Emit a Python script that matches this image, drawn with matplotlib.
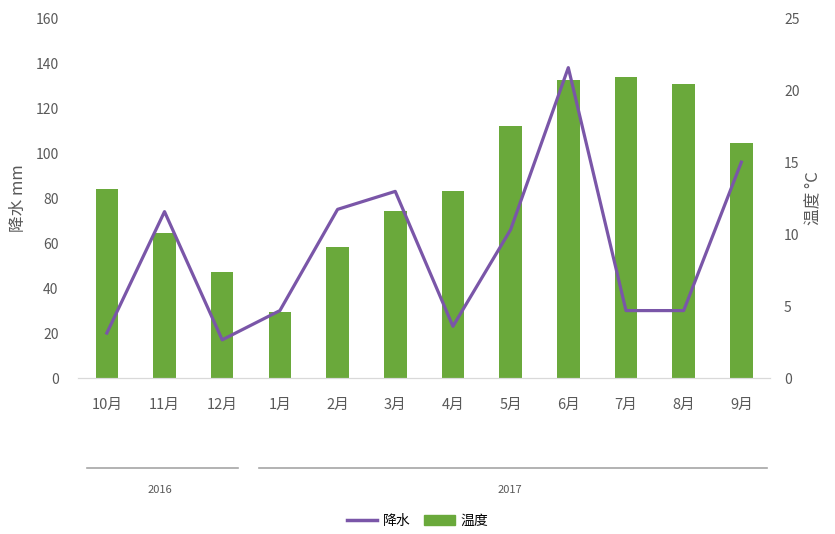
import numpy as np
import matplotlib
matplotlib.use('Agg')
import matplotlib.pyplot as plt
from matplotlib.lines import Line2D
from matplotlib.patches import Patch

plt.rcParams['font.family'] = ['Noto Sans CJK SC', 'DejaVu Sans']

months = ['10月', '11月', '12月', '1月', '2月', '3月', '4月', '5月', '6月', '7月', '8月', '9月']
rain = [20, 74, 17, 30, 75, 83, 23, 66, 138, 30, 30, 96]          # 降水 mm
temp = [13.1, 10.1, 7.4, 4.6, 9.1, 11.6, 13.0, 17.5, 20.7, 20.9, 20.4, 16.3]  # 温度 °C
years = ['2016', '2017']
year_spans = [(-0.34, 2.27), (2.64, 11.44)]

grey = '#595959'
green = '#6aa93b'
purple = '#7a56a8'

fig = plt.figure(figsize=(8.35, 5.34), dpi=100)
ax = fig.add_axes([0.0934, 0.292, 0.829, 0.674])
ax2 = ax.twinx()
ax.set_zorder(ax2.get_zorder() + 1)
ax.patch.set_visible(False)

xx = np.arange(len(months))
ax2.bar(xx, temp, width=0.39, color=green, zorder=2)
ax.plot(xx, rain, color=purple, lw=2.3, zorder=3)

ax.set_xlim(-0.5, len(months) - 0.5)
ax.set_ylim(0, 160)
ax2.set_ylim(0, 25)
ax.set_yticks(range(0, 161, 20))
ax2.set_yticks(range(0, 26, 5))
ax.set_xticks(xx)
ax.set_xticklabels(months)

for a in (ax, ax2):
    for s in ['top', 'left', 'right']:
        a.spines[s].set_visible(False)
    a.spines['bottom'].set_color('#d9d9d9')
    a.tick_params(axis='y', length=0, labelsize=10, labelcolor=grey)
ax.tick_params(axis='y', pad=14)
ax2.tick_params(axis='y', pad=10)
ax.tick_params(axis='x', length=0, pad=14, labelsize=10.5, labelcolor=grey)

ax.set_ylabel('降水 mm', fontsize=12, color=grey, labelpad=6)
ax2.set_ylabel('温度 °C', fontsize=12, color=grey, labelpad=4)

# year grouping below month labels
trans = ax.get_xaxis_transform()
for yr, (x0, x1) in zip(years, year_spans):
    ax.plot([x0, x1], [-0.25, -0.25], color='#a6a6a6', lw=1.2, transform=trans, clip_on=False)
    ax.text((x0 + x1) / 2 - 0.05, -0.31, yr, transform=trans, ha='center', va='center',
            fontsize=8, color=grey)

handles = [Line2D([0], [0], color=purple, lw=2.5), Patch(color=green)]
fig.legend(handles, ['降水', '温度'], loc='center', bbox_to_anchor=(0.5, 0.024), ncol=2,
           frameon=False, fontsize=10, handlelength=2.2, columnspacing=1.0, handletextpad=0.4)

plt.savefig('out.png', dpi=100)
